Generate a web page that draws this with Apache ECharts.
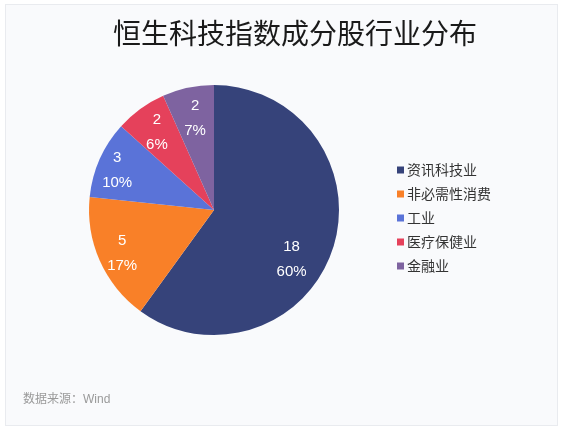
<!DOCTYPE html>
<html>
<head>
<meta charset="utf-8">
<script src="https://cdn.jsdelivr.net/npm/echarts@6/dist/echarts.min.js"></script>
<style>
  html, body { margin: 0; padding: 0; background: #ffffff; }
  .card { position: absolute; left: 5px; top: 4px; width: 551px; height: 420px;
          border: 1px solid #e9ebef; background: #f9fafc; }
  #chart { position: absolute; left: 0; top: 0; width: 566px; height: 436px; }
</style>
</head>
<body>
<div class="card"></div>
<div id="chart"></div>
<script>
const titleText = '恒生科技指数成分股行业分布';
const sourceText = '数据来源：Wind';
const categories = ['资讯科技业', '非必需性消费', '工业', '医疗保健业', '金融业'];
const counts = [18, 5, 3, 2, 2];
const pctLabels = ['60%', '17%', '10%', '6%', '7%'];
const colors = ['#36437a', '#f98028', '#5a73d8', '#e5415b', '#7e63a0'];

const chart = echarts.init(document.getElementById('chart'), null, { renderer: 'canvas' });

const labelOffsets = [[-18, 18], [0, 2], [-5, 1], [2, 4], [2, 7]];
const pieData = categories.map((c, i) => ({ name: c, value: counts[i], itemStyle: { color: colors[i] } }));
const labelData = categories.map((c, i) => ({
  name: c, value: counts[i],
  itemStyle: { color: 'rgba(0,0,0,0)' },
  label: { offset: labelOffsets[i] }
}));

chart.setOption({
  backgroundColor: 'transparent',
  animation: false,
  title: [{
    text: titleText,
    left: 290, top: 14, textAlign: 'center',
    textStyle: { fontSize: 28, fontWeight: 'normal', color: '#1a1a1a',
                 fontFamily: '"Noto Sans CJK SC", sans-serif' }
  }, {
    text: sourceText,
    left: 18, top: 389,
    textStyle: { fontSize: 12, fontWeight: 'normal', color: '#9a9a9a',
                 fontFamily: '"Liberation Sans", "Noto Sans CJK SC", sans-serif' }
  }],
  legend: {
    orient: 'vertical',
    left: 392, top: 158,
    itemWidth: 7, itemHeight: 7, itemGap: 10,
    icon: 'rect',
    data: categories,
    textStyle: { fontSize: 14, color: '#333', fontFamily: '"Noto Sans CJK SC", sans-serif', padding: [0, 0, 0, -2] }
  },
  series: [{
    type: 'pie',
    center: [214, 210],
    radius: [0, 125],
    startAngle: 90,
    clockwise: true,
    label: { show: false },
    labelLine: { show: false },
    emphasis: { disabled: true },
    data: pieData
  }, {
    type: 'pie',
    center: [214, 210],
    radius: [70, 125],
    startAngle: 90,
    clockwise: true,
    silent: true,
    legendHoverLink: false,
    labelLine: { show: false },
    label: {
      show: true,
      position: 'inside',
      color: '#ffffff',
      fontSize: 15,
      lineHeight: 25,
      fontFamily: '"Liberation Sans", Arial, sans-serif',
      formatter: p => counts[p.dataIndex] + '\n' + pctLabels[p.dataIndex]
    },
    emphasis: { disabled: true },
    data: labelData
  }]
});
</script>
</body>
</html>
